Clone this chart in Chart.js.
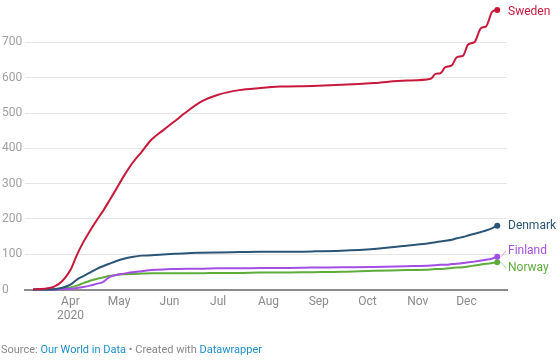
<!DOCTYPE html>
<html lang="en">
<head>
<meta charset="UTF-8">
<title>Covid-19 deaths per million - Nordic countries</title>
<script src="https://cdn.jsdelivr.net/npm/chart.js@4"></script>
<style>
    body { margin: 0; background: #fff; font-family: Roboto, "Noto Sans", sans-serif; }
    #wrap { position: relative; width: 560px; height: 361px; }
    #source { position: absolute; left: 1px; top: 343px; font-size: 11px; line-height: 13px; color: #888; white-space: nowrap; }
    #source a { color: #1d8ec9; text-decoration: none; }
</style>
</head>
<body>
<div id="wrap">
    <canvas id="deathsChart" width="560" height="361"></canvas>
    <div id="source">Source: <a>Our World in Data</a> • Created with <a>Datawrapper</a></div>
</div>

<script>
// Dates of the sampled points (2020)
const dates = [
    '2020-03-09', '2020-03-16', '2020-03-22', '2020-03-27', '2020-04-01', '2020-04-05',
    '2020-04-09', '2020-04-13', '2020-04-17', '2020-04-21', '2020-04-25', '2020-04-29',
    '2020-05-04', '2020-05-09', '2020-05-15', '2020-05-21', '2020-05-28', '2020-06-04',
    '2020-06-12', '2020-06-20', '2020-07-01', '2020-07-14', '2020-07-27', '2020-08-08',
    '2020-08-28', '2020-09-15', '2020-10-05', '2020-10-25', '2020-11-09', '2020-11-12',
    '2020-11-15', '2020-11-18', '2020-11-22', '2020-11-25', '2020-11-29', '2020-12-02',
    '2020-12-06', '2020-12-10', '2020-12-13', '2020-12-17', '2020-12-20'
];

// Cumulative deaths per million
const sweden = [
    0, 2, 8, 24, 55, 98, 135, 166, 195, 222, 252, 283,
    322, 357, 391, 425, 451, 476, 505, 531, 552, 565, 571, 575,
    577, 580, 585, 592, 597, 611, 613, 630, 635, 658, 663, 694,
    701, 741, 745, 788, 792
];
const denmark = [
    0, 0, 1, 5, 14, 28, 38, 48, 58, 66, 73, 80,
    87, 92, 96, 97, 99, 101, 103, 104, 105, 106, 107, 107,
    108, 110, 115, 124, 132, 134, 136, 138, 141, 145, 149, 153,
    158, 163, 167, 174, 181
];
const finland = [
    0, 0, 0, 1, 2, 4, 7, 11, 16, 21, 35, 41,
    45, 49, 52, 55, 57, 58, 59, 59, 60, 60, 61, 61,
    62, 63, 64, 66, 68, 69, 70, 70, 72, 73, 75, 77,
    79, 82, 84, 88, 93
];
const norway = [
    0, 0, 1, 3, 6, 11, 18, 25, 30, 34, 38, 41,
    43, 44, 45, 46, 46, 46, 46, 46, 47, 47, 48, 48,
    49, 50, 53, 55, 57, 58, 58, 59, 61, 62, 63, 65,
    68, 71, 73, 75, 77
];

const countries = ['Sweden', 'Denmark', 'Finland', 'Norway'];
const colors = ['#c8193c', '#2a5577', '#a44fe3', '#5eac3c'];

// Axis ticks
const monthStarts = ['2020-04-01', '2020-05-01', '2020-06-01', '2020-07-01', '2020-08-01',
                     '2020-09-01', '2020-10-01', '2020-11-01', '2020-12-01'];
const monthLabels = ['Apr', 'May', 'Jun', 'Jul', 'Aug', 'Sep', 'Oct', 'Nov', 'Dec'];
const yearLabel = '2020';
const yTicks = [0, 100, 200, 300, 400, 500, 600, 700];

// day number in 2020 (Jan 1 = 0)
function dayOf(s) {
    const p = s.split('-').map(Number);
    return (Date.UTC(p[0], p[1] - 1, p[2]) - Date.UTC(2020, 0, 1)) / 864e5;
}

const seriesValues = [sweden, denmark, finland, norway];
const datasets = countries.map((name, i) => ({
    label: name,
    data: dates.map((d, k) => ({ x: dayOf(d), y: seriesValues[i][k] })),
    borderColor: colors[i],
    backgroundColor: colors[i],
    borderWidth: 2,
    cubicInterpolationMode: 'monotone',
    pointRadius: ctx => ctx.dataIndex === dates.length - 1 ? 3 : 0,
    pointBorderWidth: 0,
    clip: false
}));

// Labels at the end of each line, pushed apart when they overlap
const endLabels = {
    id: 'endLabels',
    afterDatasetsDraw(chart) {
        const ctx = chart.ctx;
        const area = chart.chartArea;
        const items = chart.data.datasets.map((ds, i) => {
            const meta = chart.getDatasetMeta(i);
            const pt = meta.data[meta.data.length - 1];
            return { text: ds.label, color: ds.borderColor, x: pt.x, y: pt.y, ly: pt.y };
        }).sort((a, b) => a.y - b.y);

        const gap = 17.5;
        for (let n = 0; n < 30; n++) {
            for (let k = 0; k < items.length - 1; k++) {
                const a = items[k], b = items[k + 1];
                const d = b.ly - a.ly;
                if (d < gap) {
                    const push = (gap - d) / 2;
                    a.ly -= push;
                    b.ly += push;
                }
            }
            items.forEach(it => { if (it.ly < area.top + 5) it.ly = area.top + 5; });
        }

        ctx.save();
        ctx.font = '12px Roboto, "Noto Sans", sans-serif';
        ctx.textBaseline = 'middle';
        ctx.textAlign = 'left';
        items.forEach(it => {
            if (Math.abs(it.ly - it.y) > 3) {
                ctx.strokeStyle = it.color;
                ctx.globalAlpha = 0.5;
                ctx.lineWidth = 1;
                ctx.beginPath();
                ctx.moveTo(it.x + 4, it.y);
                ctx.lineTo(area.right - 1, it.ly);
                ctx.stroke();
                ctx.globalAlpha = 1;
            }
            ctx.fillStyle = it.color;
            ctx.fillText(it.text, area.right + 1, it.ly);
        });
        ctx.restore();
    }
};

const chart = new Chart(document.getElementById('deathsChart').getContext('2d'), {
    type: 'line',
    data: { datasets: datasets },
    plugins: [endLabels],
    options: {
        responsive: false,
        animation: false,
        layout: { padding: { left: 2, right: 53, top: 6, bottom: 41.5 } },
        plugins: {
            legend: { display: false },
            tooltip: { enabled: false }
        },
        scales: {
            x: {
                type: 'linear',
                min: dayOf('2020-03-04'),
                max: dayOf('2020-12-26'),
                afterFit: s => { s.height = 30; },
                afterBuildTicks: s => { s.ticks = monthStarts.map(d => ({ value: dayOf(d) })); },
                grid: { display: false, drawTicks: false },
                border: { color: '#8c8c8c', width: 2 },
                ticks: {
                    autoSkip: false,
                    maxRotation: 0,
                    padding: 5,
                    color: '#8a8a8a',
                    font: { family: 'Roboto', size: 12 },
                    callback: (v, i) => i === 0 ? [monthLabels[i], yearLabel] : monthLabels[i]
                }
            },
            y: {
                min: 0,
                max: 800,
                afterFit: s => { s.width = 23; },
                afterBuildTicks: s => { s.ticks = yTicks.map(v => ({ value: v })); },
                grid: {
                    drawTicks: false,
                    color: ctx => ctx.tick && ctx.tick.value === 0 ? 'rgba(0,0,0,0)' : '#e6e6e6'
                },
                border: { display: false },
                ticks: {
                    padding: 0,
                    crossAlign: 'far',
                    color: '#a0a0a0',
                    font: { family: 'Roboto', size: 12 }
                }
            }
        }
    }
});
</script>
</body>
</html>
